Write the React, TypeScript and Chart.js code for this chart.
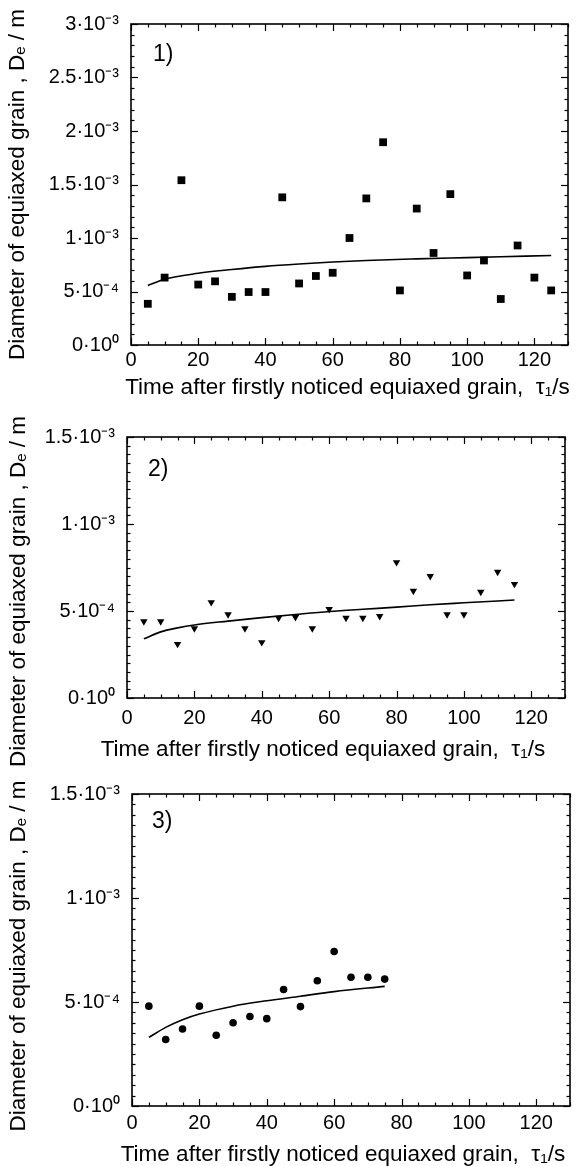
import React, { useEffect, useRef } from 'react';
import { Chart, registerables } from 'chart.js';

Chart.register(...registerables);

const FONT = '"Liberation Sans", Arial, Helvetica, sans-serif';

// ---------- data ----------
const xTickLabels = ['0', '20', '40', '60', '80', '100', '120'];
const yTickLabels1 = ['0·10⁰', '5·10⁻⁴', '1·10⁻³', '1.5·10⁻³', '2·10⁻³', '2.5·10⁻³', '3·10⁻³'];
const yTickLabels23 = ['0·10⁰', '5·10⁻⁴', '1·10⁻³', '1.5·10⁻³'];

const xTitle = 'Time after firstly noticed equiaxed grain,  τ₁/s';
const yTitle = 'Diameter of equiaxed grain , Dₑ / m';

// panel 1 (squares)
const time1 = [5, 10, 15, 20, 25, 30, 35, 40, 45, 50, 55, 60, 65, 70, 75, 80, 85, 90, 95, 100, 105, 110, 115, 120, 125];
const diam1 = [3.85e-4, 6.3e-4, 1.54e-3, 5.65e-4, 5.95e-4, 4.5e-4, 4.95e-4, 4.95e-4, 1.38e-3, 5.75e-4, 6.45e-4, 6.75e-4, 1.0e-3, 1.37e-3, 1.895e-3, 5.1e-4, 1.275e-3, 8.6e-4, 1.41e-3, 6.5e-4, 7.9e-4, 4.3e-4, 9.3e-4, 6.3e-4, 5.1e-4];
const fitTime1 = [5, 10, 20, 30, 40, 50, 60, 70, 85, 100, 110, 125];
const fitDiam1 = [5.55e-4, 6.15e-4, 6.7e-4, 7.05e-4, 7.35e-4, 7.57e-4, 7.75e-4, 7.9e-4, 8.05e-4, 8.17e-4, 8.25e-4, 8.37e-4];

// panel 2 (down triangles)
const time2 = [5, 10, 15, 20, 25, 30, 35, 40, 45, 50, 55, 60, 65, 70, 75, 80, 85, 90, 95, 100, 105, 110, 115];
const diam2 = [4.4e-4, 4.4e-4, 3.1e-4, 4.0e-4, 5.5e-4, 4.8e-4, 4.0e-4, 3.2e-4, 4.6e-4, 4.65e-4, 4.0e-4, 5.1e-4, 4.6e-4, 4.6e-4, 4.7e-4, 7.8e-4, 6.15e-4, 7.0e-4, 4.8e-4, 4.8e-4, 6.1e-4, 7.25e-4, 6.55e-4];
const fitTime2 = [5, 10, 15, 20, 30, 40, 50, 60, 70, 80, 90, 100, 115];
const fitDiam2 = [3.4e-4, 3.8e-4, 4.03e-4, 4.2e-4, 4.42e-4, 4.62e-4, 4.8e-4, 4.97e-4, 5.1e-4, 5.22e-4, 5.36e-4, 5.47e-4, 5.63e-4];

// panel 3 (circles)
const time3 = [5, 10, 15, 20, 25, 30, 35, 40, 45, 50, 55, 60, 65, 70, 75];
const diam3 = [4.8e-4, 3.2e-4, 3.7e-4, 4.8e-4, 3.4e-4, 4.0e-4, 4.3e-4, 4.2e-4, 5.6e-4, 4.78e-4, 6.02e-4, 7.43e-4, 6.19e-4, 6.19e-4, 6.1e-4];
const fitTime3 = [5, 10, 15, 20, 30, 40, 50, 60, 75];
const fitDiam3 = [3.3e-4, 3.78e-4, 4.15e-4, 4.42e-4, 4.8e-4, 5.06e-4, 5.28e-4, 5.5e-4, 5.75e-4];

// ---------- decoration plugin (box, inward ticks, labels, titles) ----------
const decoPlugin = {
  id: 'deco',
  afterDraw(chart: any, _args: any, o: any) {
    const { ctx, chartArea: a, scales } = chart;
    const xs = scales.x;
    const ys = scales.y;
    ctx.save();
    ctx.strokeStyle = '#000';
    ctx.fillStyle = '#000';
    ctx.lineWidth = 1.2;
    const seg = (x1: number, y1: number, x2: number, y2: number) => {
      ctx.beginPath();
      ctx.moveTo(x1, y1);
      ctx.lineTo(x2, y2);
      ctx.stroke();
    };
    const nx = Math.round((xs.max - xs.min) / o.xMinor);
    for (let i = 0; i <= nx; i++) {
      const v = xs.min + i * o.xMinor;
      const px = Math.round(xs.getPixelForValue(v)) + 0.5;
      const r = v / o.xMajor;
      const len = Math.abs(r - Math.round(r)) < 1e-6 ? 7 : 3.5;
      seg(px, a.bottom, px, a.bottom - len);
      seg(px, a.top, px, a.top + len);
    }
    const ny = Math.round((ys.max - ys.min) / o.yMinor);
    for (let i = 0; i <= ny; i++) {
      const v = ys.min + i * o.yMinor;
      const py = Math.round(ys.getPixelForValue(v)) + 0.5;
      const r = v / o.yMajor;
      const len = Math.abs(r - Math.round(r)) < 1e-6 ? 7 : 3.5;
      seg(a.left, py, a.left + len, py);
      seg(a.right, py, a.right - len, py);
    }
    ctx.lineWidth = 1.6;
    ctx.strokeRect(a.left, a.top, a.right - a.left, a.bottom - a.top);

    // panel label
    ctx.font = `23px ${FONT}`;
    ctx.textAlign = 'left';
    ctx.textBaseline = 'middle';
    ctx.fillText(o.label, a.left + o.labelDx, a.top + o.labelDy);

    // axis titles
    ctx.font = `22.5px ${FONT}`;
    ctx.textAlign = 'center';
    ctx.textBaseline = 'middle';
    ctx.fillText(xTitle, (a.left + a.right) / 2 + o.xTitleDx, a.bottom + o.xTitleDy);
    ctx.translate(o.yTitleX, (a.top + a.bottom) / 2 + o.yTitleDy);
    ctx.rotate(-Math.PI / 2);
    ctx.fillText(yTitle, 0, 0);
    ctx.restore();
  },
};

type Panel = {
  top: number;
  height: number;
  padTop: number;
  padRight: number;
  yAxisW: number;
  xAxisH: number;
  xLabelPad: number;
  yMax: number;
  yMinor: number;
  yLabels: string[];
  times: number[];
  diams: number[];
  fitT: number[];
  fitD: number[];
  pointStyle: string;
  radius: number;
  rotation: number;
  label: string;
  labelDx: number;
  labelDy: number;
  xTitleDx: number;
  xTitleDy: number;
  yTitleX: number;
  yTitleDy: number;
};

const panels: Panel[] = [
  {
    top: 0, height: 402, padTop: 17, padRight: 18, yAxisW: 131, xAxisH: 57, xLabelPad: 3,
    yMax: 3e-3, yMinor: 1e-4, yLabels: yTickLabels1,
    times: time1, diams: diam1, fitT: fitTime1, fitD: fitDiam1,
    pointStyle: 'rect', radius: 5.5, rotation: 0,
    label: '1)', labelDx: 22, labelDy: 31, xTitleDx: -2, xTitleDy: 43, yTitleX: 18, yTitleDy: 0,
  },
  {
    top: 402, height: 368, padTop: 35, padRight: 21, yAxisW: 127, xAxisH: 72, xLabelPad: 8,
    yMax: 1.5e-3, yMinor: 5e-5, yLabels: yTickLabels23,
    times: time2, diams: diam2, fitT: fitTime2, fitD: fitDiam2,
    pointStyle: 'triangle', radius: 4.3, rotation: 180,
    label: '2)', labelDx: 21, labelDy: 33, xTitleDx: -23, xTitleDy: 52, yTitleX: 19, yTitleDy: 24,
  },
  {
    top: 770, height: 396, padTop: 22, padRight: 16, yAxisW: 132, xAxisH: 60, xLabelPad: 5,
    yMax: 1.5e-3, yMinor: 5e-5, yLabels: yTickLabels23,
    times: time3, diams: diam3, fitT: fitTime3, fitD: fitDiam3,
    pointStyle: 'circle', radius: 3.8, rotation: 0,
    label: '3)', labelDx: 20, labelDy: 28, xTitleDx: -8, xTitleDy: 49, yTitleX: 19, yTitleDy: 6,
  },
];

function PanelChart({ p }: { p: Panel }) {
  const ref = useRef<HTMLCanvasElement | null>(null);
  useEffect(() => {
    if (!ref.current) return;
    const tickFont = { family: FONT, size: 20, lineHeight: 1.2 };
    const chart = new Chart(ref.current, {
      type: 'scatter',
      data: {
        datasets: [
          {
            type: 'line',
            data: p.fitT.map((t, i) => ({ x: t, y: p.fitD[i] })),
            borderColor: '#000',
            borderWidth: 1.6,
            pointRadius: 0,
            fill: false,
            cubicInterpolationMode: 'monotone',
          } as any,
          {
            type: 'scatter',
            data: p.times.map((t, i) => ({ x: t, y: p.diams[i] })),
            pointStyle: p.pointStyle,
            pointRadius: p.radius,
            rotation: p.rotation,
            backgroundColor: '#000',
            borderColor: '#000',
            borderWidth: 0,
          } as any,
        ],
      },
      options: {
        responsive: false,
        animation: false,
        events: [],
        layout: { padding: { top: p.padTop, right: p.padRight, left: 0, bottom: 0 } },
        plugins: {
          legend: { display: false },
          tooltip: { enabled: false },
          deco: {
            xMinor: 5, xMajor: 20, yMinor: p.yMinor, yMajor: 5e-4,
            label: p.label, labelDx: p.labelDx, labelDy: p.labelDy,
            xTitleDx: p.xTitleDx, xTitleDy: p.xTitleDy, yTitleX: p.yTitleX, yTitleDy: p.yTitleDy,
          },
        } as any,
        scales: {
          x: {
            type: 'linear',
            min: 0,
            max: 130,
            grid: { display: false, drawTicks: false },
            border: { display: false },
            afterFit: (s: any) => { s.height = p.xAxisH; },
            ticks: {
              stepSize: 20,
              includeBounds: false,
              autoSkip: false,
              maxRotation: 0,
              padding: p.xLabelPad,
              color: '#000',
              font: tickFont,
              callback: (_v: any, i: number) => xTickLabels[i] ?? '',
            },
          },
          y: {
            type: 'linear',
            min: 0,
            max: p.yMax,
            grid: { display: false, drawTicks: false },
            border: { display: false },
            afterFit: (s: any) => { s.width = p.yAxisW; },
            ticks: {
              stepSize: 5e-4,
              includeBounds: false,
              autoSkip: false,
              padding: 12,
              color: '#000',
              font: tickFont,
              callback: (_v: any, i: number) => p.yLabels[i] ?? '',
            },
          },
        },
      } as any,
      plugins: [decoPlugin],
    });
    return () => chart.destroy();
  }, [p]);
  return (
    <canvas
      ref={ref}
      width={586}
      height={p.height}
      style={{ position: 'absolute', left: 0, top: p.top, width: 586, height: p.height }}
    />
  );
}

export default function App() {
  return (
    <div style={{ position: 'absolute', left: 0, top: 0, width: 586, height: 1166, background: '#fff' }}>
      {panels.map((p) => (
        <PanelChart key={p.label} p={p} />
      ))}
    </div>
  );
}
